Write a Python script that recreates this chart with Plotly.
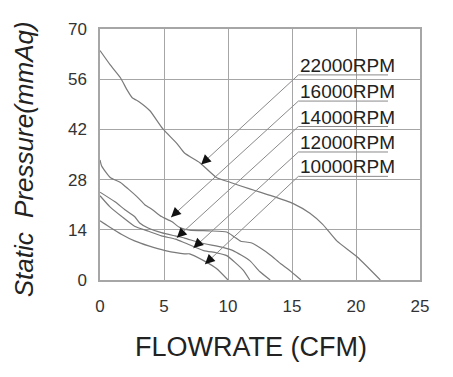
import plotly.graph_objects as go

# ---- data ----
rpm_labels = ["22000RPM", "16000RPM", "14000RPM", "12000RPM", "10000RPM"]

x_22000 = [0, 0.8, 1.6, 2.1, 2.5, 3.1, 3.9, 4.9, 6.0, 6.6, 7.8, 9.1, 10.2, 11.7, 12.5, 13.3, 15.1, 16.4, 17.4, 18.5, 20.1, 21.9]
y_22000 = [64, 60, 56.4, 53.1, 50.9, 49.6, 47.2, 42.2, 38.1, 35.4, 32.7, 28.6, 27.2, 25.4, 24.5, 23.6, 21.3, 18.6, 15.5, 10.9, 6.4, 0]

x_16000 = [0, 0.13, 0.8, 1.6, 2.2, 2.9, 3.5, 4.1, 4.8, 5.6, 6.25, 7.0, 8.5, 9.9, 10.5, 11.0, 11.8, 12.5, 13.3, 14.1, 14.8, 15.7]
y_16000 = [33.5, 31.8, 28.6, 27.2, 25.4, 23.2, 21.0, 19.6, 17.7, 16.3, 14.6, 13.9, 13.7, 13.4, 12.0, 10.8, 10.4, 9.0, 7.0, 4.6, 2.7, 0]

x_14000 = [0, 1.17, 1.95, 2.7, 3.1, 3.76, 4.8, 5.86, 6.6, 7.8, 9.6, 10.4, 11.7, 12.5, 13.3]
y_14000 = [24.5, 21.8, 19.6, 17.7, 15.9, 14.5, 13.2, 12.3, 11.7, 10.4, 9.1, 8.2, 5.4, 2.3, 0]

x_12000 = [0, 0.78, 1.7, 2.7, 3.8, 4.8, 5.9, 6.6, 8.1, 9.1, 9.9, 11.2, 11.7]
y_12000 = [23.5, 20.4, 17.7, 15.0, 13.6, 12.3, 11.4, 10.4, 8.2, 7.6, 6.8, 2.7, 0]

x_10000 = [0, 0.65, 1.7, 2.7, 3.8, 5.1, 6.6, 7.0, 8.1, 9.1, 10.0]
y_10000 = [16.5, 15.0, 12.7, 10.9, 9.5, 8.2, 7.3, 7.3, 5.4, 3.2, 0]

x_ticks = [0, 5, 10, 15, 20, 25]
y_ticks = [0, 14, 28, 42, 56, 70]

# ---- label / leader layout ----
label_x0 = 15.5
label_x1 = 22.5
label_text_y = [59.9, 52.6, 45.4, 38.3, 31.7]
underline_y = [57.2, 49.9, 42.8, 35.7, 28.9]
tip_x = [7.9, 5.55, 6.0, 7.3, 8.2]
tip_y = [32.2, 17.5, 11.8, 8.9, 4.4]

FONT = "Liberation Sans, Arial, sans-serif"
CURVE = "#7a7a7a"
GRID = "#a6a6a6"

fig = go.Figure()
series = [(x_22000, y_22000), (x_16000, y_16000), (x_14000, y_14000),
          (x_12000, y_12000), (x_10000, y_10000)]
for name, (xs, ys) in zip(rpm_labels, series):
    fig.add_trace(go.Scatter(x=xs, y=ys, mode="lines", name=name,
                             line=dict(color=CURVE, width=1.2, shape="spline", smoothing=0.5),
                             showlegend=False, hoverinfo="skip"))

shapes = []
annotations = []
for i, lab in enumerate(rpm_labels):
    shapes.append(dict(type="line", xref="x", yref="y", x0=label_x0, x1=label_x1,
                       y0=underline_y[i], y1=underline_y[i], line=dict(color="#8a8a8a", width=1)))
    shapes.append(dict(type="line", xref="x", yref="y", x0=label_x0, y0=underline_y[i],
                       x1=tip_x[i], y1=tip_y[i], line=dict(color="#8a8a8a", width=1)))
    annotations.append(dict(x=label_x0, y=label_text_y[i], xref="x", yref="y", text=lab,
                            showarrow=False, xanchor="left", yanchor="middle",
                            font=dict(family=FONT, size=19, color="#222222")))
    annotations.append(dict(x=tip_x[i], y=tip_y[i], xref="x", yref="y", text="",
                            showarrow=True, ax=7, ay=-6.6, arrowhead=2, arrowsize=1.3,
                            arrowwidth=1.5, arrowcolor="#111111", standoff=0))

annotations.append(dict(x=0.472, y=-0.268, xref="paper", yref="paper", text="FLOWRATE (CFM)",
                        showarrow=False, xanchor="center", yanchor="middle",
                        font=dict(family=FONT, size=27, color="#222222")))
annotations.append(dict(x=-0.238, y=0.48, xref="paper", yref="paper",
                        text="<i>Static&nbsp; Pressure(mmAq)</i>", textangle=-90,
                        showarrow=False, xanchor="center", yanchor="middle",
                        font=dict(family=FONT, size=26, color="#222222")))

axis_common = dict(showgrid=True, gridcolor=GRID, gridwidth=1.3, showline=True, mirror=True,
                   linecolor=GRID, linewidth=1.5, zeroline=False, ticks="",
                   tickfont=dict(family=FONT, size=17, color="#333333"))

# the page body has an 8px default margin, so the figure is drawn 8px smaller
fig.update_layout(
    width=445, height=369,
    margin=dict(l=92, r=33, t=15, b=97),
    paper_bgcolor="white", plot_bgcolor="white",
    xaxis=dict(range=[0, 25], tickvals=x_ticks, ticklabelstandoff=10, **axis_common),
    yaxis=dict(range=[0, 70], tickvals=y_ticks, ticklabelstandoff=8, **axis_common),
    shapes=shapes, annotations=annotations,
)

fig.write_html("out.html")
